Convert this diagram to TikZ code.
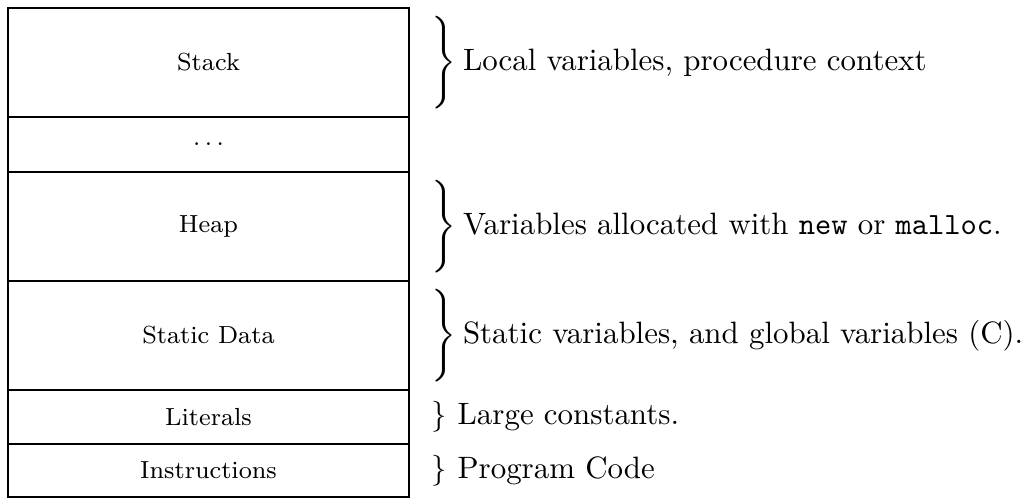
\documentclass[tikz,border=0pt]{standalone}
\begin{document}
\begin{tikzpicture}[x=0.3236pt,y=0.3236pt,yscale=-1,xscale=1]
%set diagram to the full page, 1031 x 499
\useasboundingbox (0,0) rectangle (1031,499);

%Shape: Rectangle [Stack]
\draw   (8,8) rectangle (409,117) ;
%Shape: Rectangle [dots]
\draw   (8,117) rectangle (409,172) ;
%Shape: Rectangle [Heap]
\draw   (8,172) rectangle (409,281) ;
%Shape: Rectangle [Static Data]
\draw   (8,281) rectangle (409,390) ;
%Shape: Rectangle [Literals]
\draw   (8,390) rectangle (409,444) ;
%Shape: Rectangle [Instructions]
\draw   (8,444) rectangle (409,497) ;

% Text Node
\node (stack) at (208.5,62.5) [inner sep=0.75pt] {\footnotesize Stack};
% Text Node
\node (gap) at (208.5,144.5) [inner sep=0.75pt] {\footnotesize $\ldots$};
% Text Node
\node (heap) at (208.5,226.5) [inner sep=0.75pt] {\footnotesize Heap};
% Text Node
\node (static) at (208.5,335.5) [inner sep=0.75pt] {\footnotesize Static Data};
% Text Node
\node (literals) at (208.5,417) [inner sep=0.75pt] {\footnotesize Literals};
% Text Node
\node (instr) at (208.5,470.5) [inner sep=0.75pt] {\footnotesize Instructions};

% Text Node
\node (stackuse) at (429,62.5) [anchor=west][inner sep=0.75pt] {$\Bigg\}$\hskip2pt Local variables, procedure context};
% Text Node
\node (heapuse) at (429,226.5) [anchor=west][inner sep=0.75pt] {$\Bigg\}$\hskip2pt Variables allocated with \texttt{new} or \texttt{malloc}.};
% Text Node
\node (staticuse) at (429,335.5) [anchor=west][inner sep=0.75pt] {$\Bigg\}$\hskip2pt Static variables, and global variables (C).};
% Text Node
\node (literalsuse) at (429,417) [anchor=west][inner sep=0.75pt] {$\}$ Large constants.};
% Text Node
\node (instruse) at (429,470.5) [anchor=west][inner sep=0.75pt] {$\}$ Program Code};

\end{tikzpicture}
\end{document}
